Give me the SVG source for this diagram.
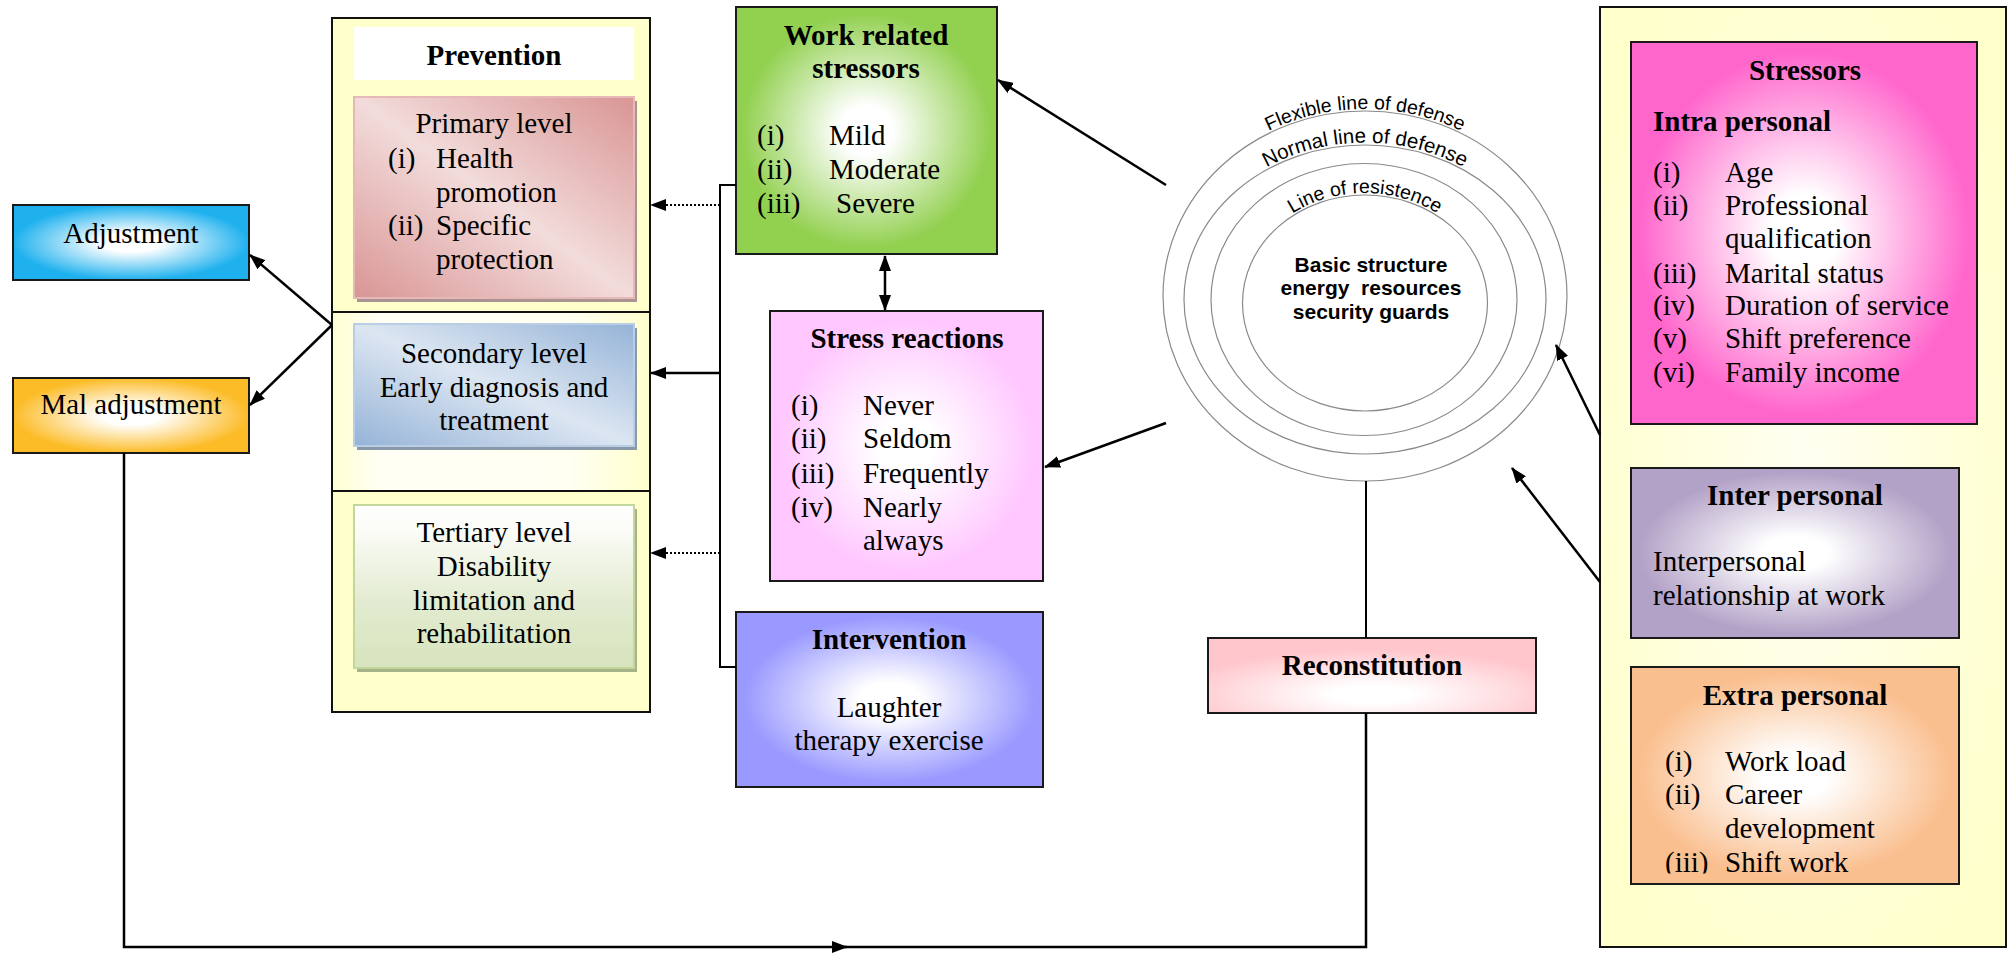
<svg xmlns="http://www.w3.org/2000/svg" width="2008" height="953" viewBox="0 0 2008 953">
<style>
.t{font-family:"Liberation Serif","Times New Roman",serif;font-size:29px;fill:#000}
.b{font-weight:bold}
.m{text-anchor:middle}
.box{stroke:#1a1a1a;stroke-width:2}
.ln{stroke:#000;stroke-width:2.5;fill:none}
.thin{stroke:#000;stroke-width:2;fill:none}
.dot{stroke:#000;stroke-width:2;fill:none;stroke-dasharray:2 2}
.ring{fill:none;stroke:#8a8a8a;stroke-width:1.2}
.rt{font-family:"Liberation Sans",Arial,sans-serif;font-size:19.5px;fill:#000}
.core{font-family:"Liberation Sans",Arial,sans-serif;font-size:21px;font-weight:bold;text-anchor:middle;fill:#000}
</style>
<defs>
<marker id="ah" viewBox="0 0 16 12" refX="15" refY="6" markerWidth="16" markerHeight="12" markerUnits="userSpaceOnUse" orient="auto-start-reverse">
<path d="M0,0 L16,6 L0,12 z" fill="#000"/>
</marker>
<radialGradient id="gBlue"><stop offset="0" stop-color="#fff"/><stop offset="0.25" stop-color="#fff"/><stop offset="1" stop-color="#1fb1ee"/></radialGradient>
<radialGradient id="gOrange"><stop offset="0" stop-color="#fff"/><stop offset="0.25" stop-color="#fff"/><stop offset="1" stop-color="#fcbc28"/></radialGradient>
<radialGradient id="gGreen"><stop offset="0" stop-color="#fff"/><stop offset="0.2" stop-color="#fff"/><stop offset="0.95" stop-color="#92d050"/></radialGradient>
<radialGradient id="gPinkL"><stop offset="0" stop-color="#fff"/><stop offset="0.2" stop-color="#fff"/><stop offset="0.95" stop-color="#ffc6ff"/></radialGradient>
<radialGradient id="gViolet"><stop offset="0" stop-color="#fff"/><stop offset="0.2" stop-color="#fff"/><stop offset="0.95" stop-color="#9999ff"/></radialGradient>
<radialGradient id="gRecon" cx="0.5" cy="0.75" r="0.6"><stop offset="0" stop-color="#fff"/><stop offset="0.2" stop-color="#fff"/><stop offset="1" stop-color="#ffc6cc"/></radialGradient>
<radialGradient id="gMagenta"><stop offset="0" stop-color="#fff"/><stop offset="0.2" stop-color="#fff"/><stop offset="0.95" stop-color="#ff66cc"/></radialGradient>
<radialGradient id="gPurple"><stop offset="0" stop-color="#fff"/><stop offset="0.2" stop-color="#fff"/><stop offset="0.95" stop-color="#b3a2c7"/></radialGradient>
<radialGradient id="gPeach"><stop offset="0" stop-color="#fff"/><stop offset="0.2" stop-color="#fff"/><stop offset="0.95" stop-color="#fabf8f"/></radialGradient>
<linearGradient id="gPrim" x1="1" y1="0" x2="0" y2="1"><stop offset="0" stop-color="#d99594"/><stop offset="0.5" stop-color="#f2dcdb"/><stop offset="1" stop-color="#d99594"/></linearGradient>
<linearGradient id="gSec" x1="1" y1="0" x2="0" y2="1"><stop offset="0" stop-color="#95b3d7"/><stop offset="0.5" stop-color="#dce6f2"/><stop offset="1" stop-color="#95b3d7"/></linearGradient>
<linearGradient id="gTer" x1="0" y1="0" x2="0" y2="1"><stop offset="0" stop-color="#fff"/><stop offset="0.15" stop-color="#fbfcf7"/><stop offset="0.6" stop-color="#e2ebd0"/><stop offset="1" stop-color="#d7e4bd"/></linearGradient>
<linearGradient id="gYelBand" x1="0" y1="0" x2="1" y2="0"><stop offset="0" stop-color="#ffffd4"/><stop offset="0.15" stop-color="#fffff4"/><stop offset="0.75" stop-color="#fffff2"/><stop offset="1" stop-color="#ffffcc"/></linearGradient>
<radialGradient id="gYelR" cx="0.5" cy="0.5" r="0.6"><stop offset="0" stop-color="#fffff2"/><stop offset="1" stop-color="#ffffcc"/></radialGradient>
<clipPath id="clipExtra"><rect x="1631" y="667" width="328" height="206.5"/></clipPath>
</defs>
<rect x="0" y="0" width="2008" height="953" fill="#fff"/>

<g id="prevention">
<rect x="332" y="18" width="318" height="694" fill="#ffffcc" stroke="#111" stroke-width="2"/>
<rect x="333" y="312" width="316" height="179" fill="url(#gYelBand)"/>
<line x1="332" y1="312" x2="650" y2="312" stroke="#111" stroke-width="2"/>
<line x1="332" y1="491" x2="650" y2="491" stroke="#111" stroke-width="2"/>
<rect x="354" y="27" width="280" height="53" fill="#fff"/>
<text class="t b m" x="494" y="65">Prevention</text>
</g>

<g id="primary">
<rect x="357" y="101" width="280" height="201" fill="#a99393"/>
<rect x="354" y="97" width="280" height="201" fill="url(#gPrim)" stroke="#e6b8b7" stroke-width="2"/>
<text class="t m" x="494" y="133">Primary level</text>
<text class="t"><tspan x="388" y="168">(i)</tspan><tspan x="436" y="168">Health</tspan><tspan x="436" y="202">promotion</tspan><tspan x="388" y="235">(ii)</tspan><tspan x="436" y="235">Specific</tspan><tspan x="436" y="269">protection</tspan></text>
</g>

<g id="secondary">
<rect x="357" y="328" width="280" height="122" fill="#8a99aa"/>
<rect x="354" y="324" width="280" height="122" fill="url(#gSec)" stroke="#b9cde5" stroke-width="2"/>
<text class="t m" x="494" y="363">Secondary level</text>
<text class="t m" x="494" y="397">Early diagnosis and</text>
<text class="t m" x="494" y="430">treatment</text>
</g>

<g id="tertiary">
<rect x="357" y="509" width="280" height="163" fill="#a6b389"/>
<rect x="354" y="505" width="280" height="163" fill="url(#gTer)" stroke="#c3d69b" stroke-width="2"/>
<text class="t m" x="494" y="542">Tertiary level</text>
<text class="t m" x="494" y="576">Disability</text>
<text class="t m" x="494" y="610">limitation and</text>
<text class="t m" x="494" y="643">rehabilitation</text>
</g>

<g id="adjustment">
<rect class="box" x="13" y="205" width="236" height="75" fill="url(#gBlue)"/>
<text class="t m" x="131" y="243">Adjustment</text>
</g>

<g id="maladjustment">
<rect class="box" x="13" y="378" width="236" height="75" fill="url(#gOrange)"/>
<text class="t m" x="131" y="414">Mal adjustment</text>
</g>

<g id="work-stressors">
<rect class="box" x="736" y="7" width="261" height="247" fill="url(#gGreen)"/>
<text class="t b m" x="866" y="45">Work related</text>
<text class="t b m" x="866" y="78">stressors</text>
<text class="t"><tspan x="757" y="145">(i)</tspan><tspan x="829" y="145">Mild</tspan><tspan x="757" y="179">(ii)</tspan><tspan x="829" y="179">Moderate</tspan><tspan x="757" y="213">(iii)</tspan><tspan x="836" y="213">Severe</tspan></text>
</g>

<g id="stress-reactions">
<rect class="box" x="770" y="311" width="273" height="270" fill="url(#gPinkL)"/>
<text class="t b m" x="907" y="348">Stress reactions</text>
<text class="t"><tspan x="791" y="415">(i)</tspan><tspan x="863" y="415">Never</tspan><tspan x="791" y="448">(ii)</tspan><tspan x="863" y="448">Seldom</tspan><tspan x="791" y="483">(iii)</tspan><tspan x="863" y="483">Frequently</tspan><tspan x="791" y="517">(iv)</tspan><tspan x="863" y="517">Nearly</tspan><tspan x="863" y="550">always</tspan></text>
</g>

<g id="intervention">
<rect class="box" x="736" y="612" width="307" height="175" fill="url(#gViolet)"/>
<text class="t b m" x="889" y="649">Intervention</text>
<text class="t m" x="889" y="717">Laughter</text>
<text class="t m" x="889" y="750">therapy exercise</text>
</g>

<g id="defense-circles">
<ellipse class="ring" cx="1365" cy="296" rx="202" ry="185"/>
<ellipse class="ring" cx="1365" cy="299.5" rx="181" ry="154.5"/>
<ellipse class="ring" cx="1364" cy="299.5" rx="153" ry="136"/>
<ellipse class="ring" cx="1365" cy="303" rx="122.5" ry="108"/>
<path id="arc1" d="M1160,296 A205 187 0 0 1 1570,296" fill="none"/>
<path id="arc2" d="M1182,299.5 A183 157 0 0 1 1548,299.5" fill="none"/>
<path id="arc4" d="M1240,303 A125 110 0 0 1 1490,303" fill="none"/>
<text class="rt"><textPath href="#arc1" startOffset="50%" text-anchor="middle">Flexible line of defense</textPath></text>
<text class="rt" style="font-size:20.5px"><textPath href="#arc2" startOffset="50%" text-anchor="middle">Normal line of defense</textPath></text>
<text class="rt"><textPath href="#arc4" startOffset="50%" text-anchor="middle">Line of resistence</textPath></text>
<text class="core" x="1371" y="272">Basic structure</text>
<text class="core" x="1371" y="295" xml:space="preserve">energy  resources</text>
<text class="core" x="1371" y="319">security guards</text>
</g>

<g id="reconstitution">
<rect class="box" x="1208" y="638" width="328" height="75" fill="url(#gRecon)"/>
<text class="t b m" x="1372" y="675">Reconstitution</text>
</g>

<g id="stressors-panel">
<rect x="1600" y="7" width="406" height="940" fill="url(#gYelR)" stroke="#111" stroke-width="2"/>
</g>

<g id="intra-personal">
<rect class="box" x="1631" y="42" width="346" height="382" fill="url(#gMagenta)"/>
<text class="t b m" x="1805" y="80">Stressors</text>
<text class="t b" x="1653" y="131">Intra personal</text>
<text class="t"><tspan x="1653" y="182">(i)</tspan><tspan x="1725" y="182">Age</tspan><tspan x="1653" y="215">(ii)</tspan><tspan x="1725" y="215">Professional</tspan><tspan x="1725" y="248">qualification</tspan><tspan x="1653" y="283">(iii)</tspan><tspan x="1725" y="283">Marital status</tspan><tspan x="1653" y="315">(iv)</tspan><tspan x="1725" y="315">Duration of service</tspan><tspan x="1653" y="348">(v)</tspan><tspan x="1725" y="348">Shift preference</tspan><tspan x="1653" y="382">(vi)</tspan><tspan x="1725" y="382">Family income</tspan></text>
</g>

<g id="inter-personal">
<rect class="box" x="1631" y="468" width="328" height="170" fill="url(#gPurple)"/>
<text class="t b m" x="1795" y="505">Inter personal</text>
<text class="t" x="1653" y="571">Interpersonal</text>
<text class="t" x="1653" y="605">relationship at work</text>
</g>

<g id="extra-personal">
<rect class="box" x="1631" y="667" width="328" height="217" fill="url(#gPeach)"/>
<text class="t b m" x="1795" y="705">Extra personal</text>
<g clip-path="url(#clipExtra)">
<text class="t"><tspan x="1665" y="771">(i)</tspan><tspan x="1725" y="771">Work load</tspan><tspan x="1665" y="804">(ii)</tspan><tspan x="1725" y="804">Career</tspan><tspan x="1725" y="838">development</tspan><tspan x="1665" y="872">(iii)</tspan><tspan x="1725" y="872">Shift work</tspan></text>
</g>
</g>

<g id="connectors">
<line class="ln" x1="332" y1="325" x2="250" y2="255" marker-end="url(#ah)"/>
<line class="ln" x1="332" y1="325" x2="250" y2="405" marker-end="url(#ah)"/>
<path class="ln" d="M124,453 V947 H847" marker-end="url(#ah)"/>
<path class="ln" d="M845,947 H1366 V713"/>
<line class="thin" x1="1366" y1="481" x2="1366" y2="638"/>
<path class="thin" d="M736,185 H720 V667 H736"/>
<line class="ln" x1="720" y1="373" x2="651" y2="373" marker-end="url(#ah)"/>
<line class="dot" x1="720" y1="205" x2="653" y2="205"/>
<line x1="660" y1="205" x2="651" y2="205" stroke="none" marker-end="url(#ah)"/>
<line class="dot" x1="720" y1="553" x2="653" y2="553"/>
<line x1="660" y1="553" x2="651" y2="553" stroke="none" marker-end="url(#ah)"/>
<line class="ln" x1="885" y1="256" x2="885" y2="310" marker-start="url(#ah)" marker-end="url(#ah)"/>
<line class="ln" x1="1166" y1="185" x2="998" y2="80" marker-end="url(#ah)"/>
<line class="ln" x1="1166" y1="423" x2="1045" y2="467" marker-end="url(#ah)"/>
<line class="ln" x1="1600" y1="435" x2="1556" y2="345" marker-end="url(#ah)"/>
<line class="ln" x1="1600" y1="582" x2="1512" y2="468" marker-end="url(#ah)"/>
</g>
</svg>
